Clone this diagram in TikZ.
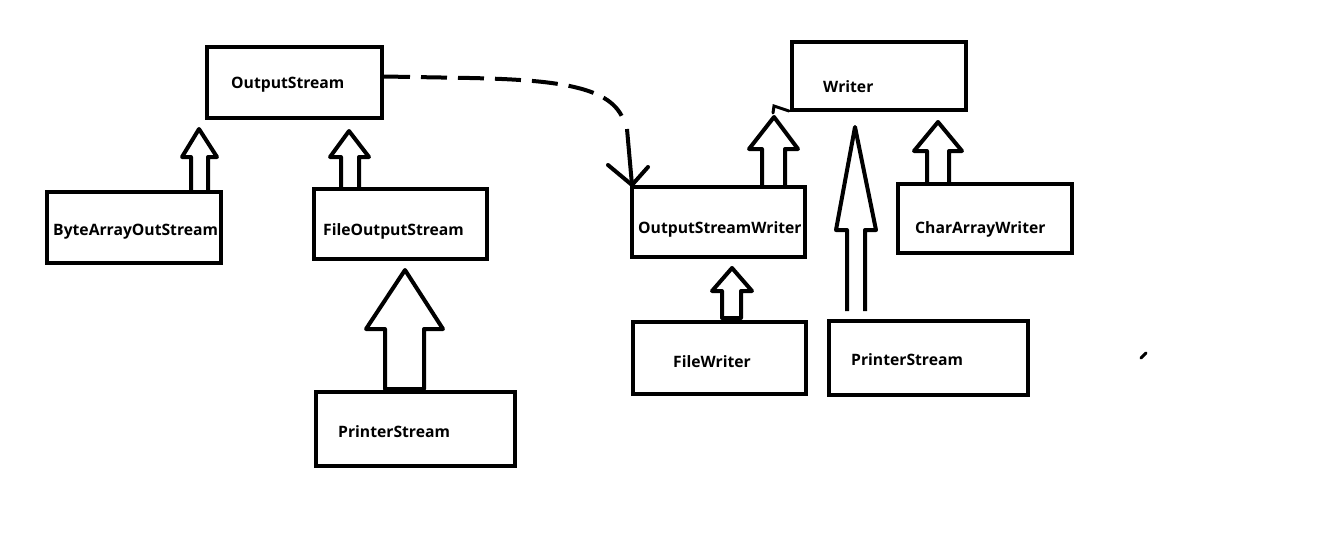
\documentclass[tikz,border=0pt]{standalone}
\usepackage{fontspec}
\setsansfont{Open Sans}
\begin{document}
\begin{tikzpicture}[x=1pt,y=-1pt,
  box/.style={draw,line width=4pt,rectangle,inner sep=0pt},
  lbl/.style={anchor=west,inner sep=0pt,font=\sffamily\bfseries\fontsize{15.7}{19}\selectfont},
  blk/.style={draw,line width=4pt,line join=round},
  thin/.style={draw,line width=4pt,line cap=round}]
\useasboundingbox (0,0) rectangle (1341,539);
% boxes
\node[box,minimum width=175pt,minimum height=71pt] (os) at (294.5,82.5) {};
\node[box,minimum width=174pt,minimum height=71pt] (bao) at (134,227.5) {};
\node[box,minimum width=173pt,minimum height=70pt] (fos) at (400.5,224) {};
\node[box,minimum width=199pt,minimum height=74pt] (psl) at (415.5,429) {};
\node[box,minimum width=174pt,minimum height=68pt] (wr) at (879,76) {};
\node[box,minimum width=173pt,minimum height=70pt] (osw) at (718.5,222) {};
\node[box,minimum width=174pt,minimum height=69pt] (caw) at (985,218.5) {};
\node[box,minimum width=173pt,minimum height=72pt] (fw) at (719.5,358) {};
\node[box,minimum width=199pt,minimum height=74pt] (psr) at (928.5,358) {};
% labels
\node[lbl] (tos) at (231,85) {OutputStream};
\node[lbl] (tbao) at (53,232) {ByteArrayOutStream};
\node[lbl] (tfos) at (323,231) {FileOutputStream};
\node[lbl] (tpsl) at (338,432) {PrinterStream};
\node[lbl] (twr) at (823,87) {Writer};
\node[lbl] (tosw) at (638,229) {OutputStreamWriter};
\node[lbl] (tcaw) at (915,229) {CharArrayWriter};
\node[lbl] (tfw) at (673,362) {FileWriter};
\node[lbl] (tpsr) at (851,360) {PrinterStream};
% hollow block arrows
\draw[blk] (191,190)--(191,157)--(182,157)--(199,129)--(217,157)--(208,157)--(208,190);
\draw[blk] (341,187)--(341,157)--(330,157)--(349,131)--(369,157)--(359,157)--(359,187);
\draw[blk] (385,389)--(385,329)--(366,329)--(405,270)--(443,329)--(424,329)--(424,389)--cycle;
\draw[blk] (762,185)--(762,149)--(749,149)--(774,117)--(798,149)--(785,149)--(785,185);
\draw[blk] (722,318)--(722,291)--(712,291)--(732,268)--(752,291)--(741,291)--(741,318)--cycle;
\draw[blk] (847,311)--(847,230)--(836,230)--(855,127)--(876,230)--(865,230)--(865,311);
\draw[blk] (927,182)--(927,151)--(914,151)--(938,122)--(962,151)--(949,151)--(949,182);
% small stroke near writer
\draw[thin,line width=3pt] (773,113)--(774,106)--(789,111);
% dashed dependency
\coordinate (dmid) at (625,125);
\draw[line width=4pt,dash pattern=on 26pt off 11pt] ([yshift=6pt]os.east) -- (470,78) .. controls (565,80) and (616,88) .. (dmid);
\draw[line width=4pt] (627,129) -- ([xshift=2pt]osw.north west);
\draw[thin] (608,165) -- ([xshift=2pt]osw.north west) -- (648,167);
% stray mark
\draw[line width=3pt,line cap=round] (1141,358)--(1146,353);
\end{tikzpicture}
\end{document}
